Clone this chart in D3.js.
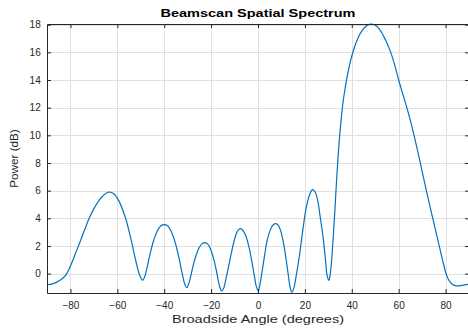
<!DOCTYPE html>
<html>
<head>
<meta charset="utf-8">
<script src="https://cdn.jsdelivr.net/npm/d3@7"></script>
<style>
  body { margin: 0; background: #fff; }
  text { font-family: "Liberation Sans", Arial, sans-serif; fill: #262626; }
</style>
</head>
<body>
<div id="chart"></div>
<script>
// values (angle in degrees, power in dB)
var angles = [-90, -88, -86, -84, -82, -80, -78, -76, -74, -72, -70, -68, -66, -63.7,
  -61.5, -59.35, -56.45, -54.3, -52.1, -50.65, -49.2,
  -48.3, -47.35, -46, -44.6, -42.75, -41.4, -40,
  -38.55, -37.1, -35.2, -33.75, -32.3, -31.35, -30.4,
  -29.65, -28.85, -27.7, -26.55, -25, -23.85, -22.7,
  -21.6, -20.55, -19.1, -18, -16.95, -16.2, -15.5,
  -14.7, -13.95, -12.75, -11.6, -10.05, -8.85, -7.7,
  -6.55, -5.35, -3.8, -2.65, -1.45, -0.7, 0.1,
  0.85, 1.6, 2.75, 3.85, 5.35, 6.5, 7.6,
  8.6, 9.65, 11, 12, 13.05, 13.7, 14.4,
  15.3, 16.15, 17.5, 18.8, 20.55, 21.9, 23.2,
  24.25, 25.3, 26.7, 27.75, 28.8, 29.5, 30.2,
  30.7, 31.2, 31.7, 32.3, 32.9, 33.5, 34.1, 34.7, 35.4, 36.2, 37.1, 38.2, 39.5, 41, 42.7, 44.5, 46.5, 48.4,
  50.5, 52.5, 54.5, 56.5, 58.3, 60, 62, 64, 66, 68, 70, 72, 74, 76, 78, 79, 80,
  81, 82, 83, 84.5, 86.5, 88.3, 90];
var power = [-0.8, -0.76, -0.63, -0.42, -0.1, 0.55, 1.4, 2.25, 3.15, 4, 4.7, 5.25, 5.65, 5.9,
  5.77, 5.26, 3.99, 2.58, 0.92, -0.03, -0.48,
  -0.2, 0.41, 1.45, 2.34, 3.15, 3.47, 3.55,
  3.46, 3.09, 2.18, 1.17, -0.01, -0.7, -1.02,
  -0.79, -0.3, 0.55, 1.26, 1.91, 2.17, 2.24,
  2.17, 1.89, 1.19, 0.41, -0.5, -1.02, -1.27,
  -1.08, -0.6, 0.35, 1.3, 2.45, 3.05, 3.25,
  3.16, 2.8, 1.9, 0.9, -0.27, -0.94, -1.26,
  -0.75, 0, 1.25, 2.35, 3.2, 3.53, 3.61,
  3.51, 3.11, 2.12, 1.03, -0.26, -1, -1.35,
  -1.05, -0.3, 1.1, 2.75, 4.75, 5.65, 6.07,
  5.94, 5.42, 3.9, 2.66, 0.96, -0.15, -0.48,
  -0.15, 0.55, 1.6, 3.2, 4.9, 6.7, 8.3, 9.7, 11, 12.3, 13.35, 14.4, 15.4, 16.3, 17.05, 17.6, 17.95, 18.05,
  17.9, 17.5, 16.85, 16.05, 15.1, 14, 12.85, 11.7, 10.4, 8.95, 7.4, 5.85, 4.4, 2.95, 1.5, 0.78, 0.12,
  -0.35, -0.62, -0.78, -0.88, -0.86, -0.8, -0.76];
var xTicks = [-80, -60, -40, -20, 0, 20, 40, 60, 80];
var yTicks = [0, 2, 4, 6, 8, 10, 12, 14, 16, 18];

var svgWidth = 468;
var svgHeight = 329;
var plot = { left: 47, right: 469, top: 24, bottom: 293 };

var data = angles.map((a, i) => ({ angle: a, power: power[i] }));

var svg = d3.select("#chart")
  .append("svg")
  .attr("width", svgWidth)
  .attr("height", svgHeight);

var x = d3.scaleLinear().domain([-90, 90]).range([plot.left, plot.right]);
var y = d3.scaleLinear()
  .domain([-1.4, d3.max(power)])
  .range([plot.bottom, plot.top]);

// grid
var grid = svg.append("g").attr("stroke", "#e0e0e0").attr("stroke-width", 1);
grid.selectAll(".gx").data(xTicks).enter().append("line")
  .attr("x1", d => Math.round(x(d)) + 0.5).attr("x2", d => Math.round(x(d)) + 0.5)
  .attr("y1", plot.top).attr("y2", plot.bottom);
grid.selectAll(".gy").data(yTicks).enter().append("line")
  .attr("y1", d => Math.round(y(d)) + 0.5).attr("y2", d => Math.round(y(d)) + 0.5)
  .attr("x1", plot.left).attr("x2", plot.right);

// spectrum line
svg.append("clipPath").attr("id", "clip")
  .append("rect")
  .attr("x", plot.left).attr("y", plot.top - 1)
  .attr("width", plot.right - plot.left).attr("height", plot.bottom - plot.top + 1);

var line = d3.line()
  .x(d => x(d.angle))
  .y(d => y(d.power))
  .curve(d3.curveCatmullRom.alpha(0.5));

svg.append("path")
  .datum(data)
  .attr("clip-path", "url(#clip)")
  .attr("fill", "none")
  .attr("stroke", "#0072bd")
  .attr("stroke-width", 1.2)
  .attr("d", line);

// axes (ticks point inward, box on)
function styleAxis(g) {
  g.select(".domain").attr("stroke", "#262626");
  g.selectAll(".tick line").attr("stroke", "#262626");
  g.selectAll("text").attr("fill", "#262626").attr("font-size", 10)
    .attr("font-family", '"Liberation Sans", Arial, sans-serif');
}

svg.append("g")
  .attr("transform", `translate(0, ${plot.bottom})`)
  .call(d3.axisBottom(x).tickValues(xTicks).tickSize(-4).tickSizeOuter(0).tickPadding(8.5))
  .call(styleAxis);
svg.append("g")
  .attr("transform", `translate(0, ${plot.top})`)
  .call(d3.axisTop(x).tickValues(xTicks).tickSize(-4).tickSizeOuter(0).tickFormat(""))
  .call(styleAxis);
svg.append("g")
  .attr("transform", `translate(${plot.left}, 0)`)
  .call(d3.axisLeft(y).tickValues(yTicks).tickSize(-4).tickSizeOuter(0).tickPadding(6.3))
  .call(styleAxis);
svg.append("g")
  .attr("transform", `translate(${plot.right}, 0)`)
  .call(d3.axisRight(y).tickValues(yTicks).tickSize(-4).tickSizeOuter(0).tickFormat(""))
  .call(styleAxis);

// labels
svg.append("text")
  .attr("x", (plot.left + plot.right) / 2)
  .attr("y", 17.3)
  .attr("text-anchor", "middle")
  .attr("font-size", 11)
  .attr("font-weight", "bold")
  .attr("textLength", 195)
  .attr("lengthAdjust", "spacingAndGlyphs")
  .style("fill", "#000")
  .text("Beamscan Spatial Spectrum");

svg.append("text")
  .attr("x", (plot.left + plot.right) / 2)
  .attr("y", 323)
  .attr("text-anchor", "middle")
  .attr("font-size", 11)
  .attr("textLength", 172)
  .attr("lengthAdjust", "spacingAndGlyphs")
  .text("Broadside Angle (degrees)");

svg.append("text")
  .attr("transform", `translate(18.3, ${(plot.top + plot.bottom) / 2}) rotate(-90)`)
  .attr("text-anchor", "middle")
  .attr("font-size", 11)
  .attr("textLength", 58.5)
  .attr("lengthAdjust", "spacingAndGlyphs")
  .text("Power (dB)");
</script>
</body>
</html>
